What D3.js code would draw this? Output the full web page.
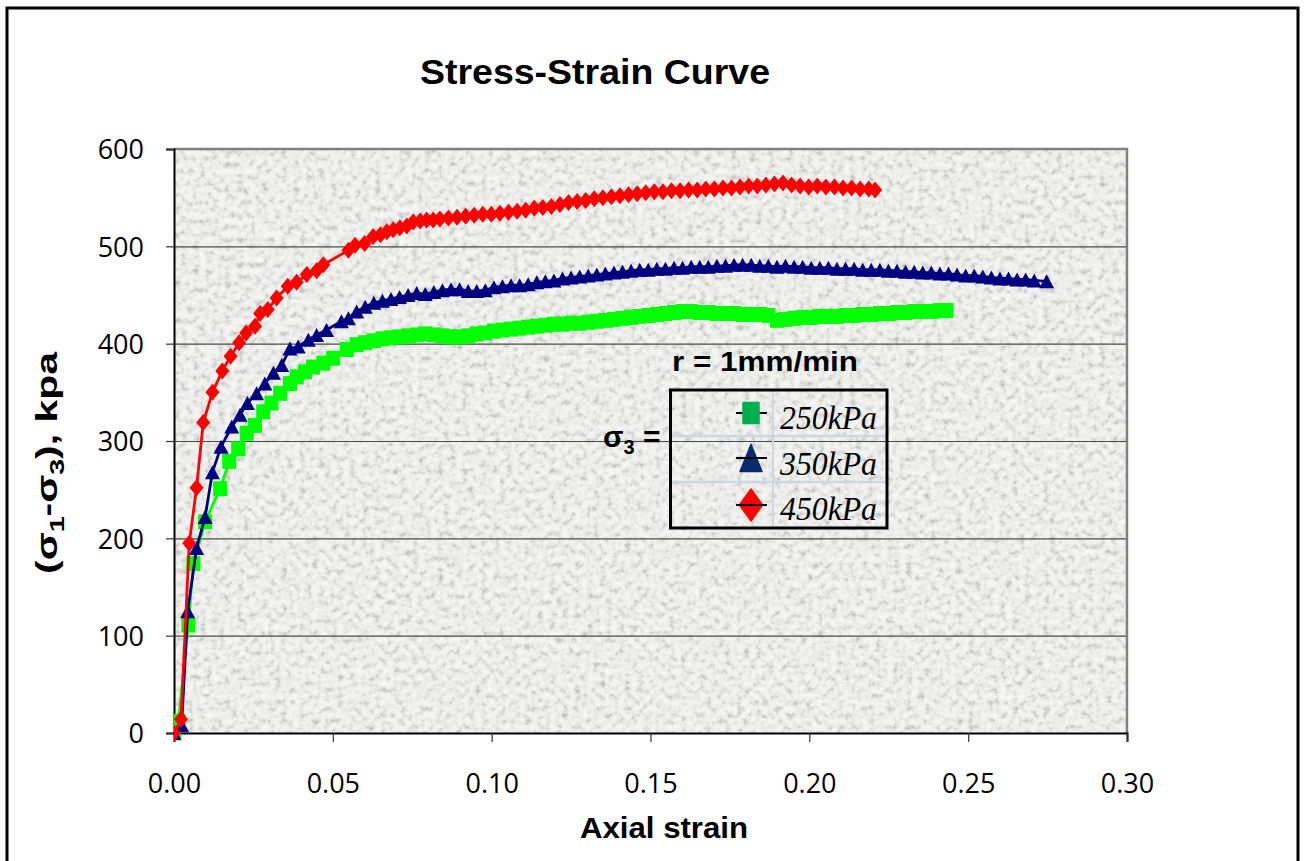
<!DOCTYPE html>
<html>
<head>
<meta charset="utf-8">
<script src="https://cdn.jsdelivr.net/npm/d3@7"></script>
<style>
  body { margin: 0; background: #fff; }
  svg { display: block; }
</style>
</head>
<body>
<svg id="chart" width="1304" height="861"></svg>
<script>
// Triaxial test, r = 1 mm/min: deviator stress vs axial strain for three confining pressures
const strain250 = [0, 0.0014, 0.0045, 0.0061, 0.0098, 0.0145, 0.0174, 0.0202, 0.0229, 0.0255, 0.0281, 0.0307, 0.0334, 0.0365, 0.0386, 0.0412, 0.0438, 0.0470, 0.0501, 0.0544, 0.0575,
  0.0602, 0.0629, 0.0656, 0.0683, 0.0710, 0.0737, 0.0764, 0.0791, 0.0818, 0.0845, 0.0872, 0.0899, 0.0926, 0.0953, 0.0980, 0.1007, 0.1034, 0.1061, 0.1088, 0.1115,
  0.1142, 0.1169, 0.1196, 0.1223, 0.1250, 0.1277, 0.1304, 0.1331, 0.1358, 0.1385, 0.1412, 0.1439, 0.1466, 0.1493, 0.1520, 0.1547, 0.1574, 0.1601, 0.1628, 0.1655,
  0.1682, 0.1709, 0.1736, 0.1763, 0.1790, 0.1817, 0.1844, 0.1871, 0.1898, 0.1925, 0.1952, 0.1979, 0.2006, 0.2033, 0.2060, 0.2087, 0.2114, 0.2141, 0.2168, 0.2195,
  0.2222, 0.2249, 0.2276, 0.2303, 0.2330, 0.2357, 0.2384, 0.2411, 0.2432];
const stress250 = [0, 12, 111, 174, 217, 251, 279, 292, 308, 316, 330, 339, 349, 359, 366, 371, 376, 380, 385, 394, 399,
  401, 403, 405, 406, 407, 408, 409, 410, 409, 408, 407, 407, 408, 410, 411, 413, 414, 415, 416, 417,
  418, 419, 420, 420, 421, 421, 422, 423, 424, 425, 426, 427, 428, 429, 430, 431, 432, 433, 433, 432,
  432, 431, 431, 431, 430, 430, 430, 429, 424, 425, 426, 427, 427, 428, 428, 428, 429, 429, 430, 430,
  431, 431, 432, 432, 433, 433, 433, 434, 434];

const strain350 = [0, 0.0024, 0.0043, 0.0071, 0.0098, 0.0121, 0.0148, 0.0182, 0.0208, 0.0231, 0.0260, 0.0286, 0.0313, 0.0339, 0.0365, 0.0391, 0.0423, 0.0449, 0.0480, 0.0527, 0.0549, 0.0575,
  0.0602, 0.0629, 0.0656, 0.0683, 0.0710, 0.0737, 0.0764, 0.0791, 0.0818, 0.0845, 0.0872, 0.0899, 0.0926, 0.0953, 0.0980, 0.1007, 0.1034, 0.1061, 0.1088, 0.1115,
  0.1142, 0.1169, 0.1196, 0.1223, 0.1250, 0.1277, 0.1304, 0.1331, 0.1358, 0.1385, 0.1412, 0.1439, 0.1466, 0.1493, 0.1520, 0.1547, 0.1574, 0.1601, 0.1628, 0.1655,
  0.1682, 0.1709, 0.1736, 0.1763, 0.1790, 0.1817, 0.1844, 0.1871, 0.1898, 0.1925, 0.1952, 0.1979, 0.2006, 0.2033, 0.2060, 0.2087, 0.2114, 0.2141, 0.2168, 0.2195,
  0.2222, 0.2249, 0.2276, 0.2303, 0.2330, 0.2357, 0.2384, 0.2411, 0.2438, 0.2465, 0.2492, 0.2519, 0.2546, 0.2573, 0.2600, 0.2627, 0.2654, 0.2681, 0.2708, 0.2747];
const stress350 = [0, 8, 125, 190, 222, 268, 294, 315, 327, 339, 349, 359, 370, 378, 395, 397, 404, 409, 414, 423, 426, 433,
  438, 442, 444, 446, 448, 450, 452, 451, 453, 455, 456, 456, 454, 454, 455, 458, 459, 460, 460, 461,
  463, 464, 465, 467, 468, 469, 470, 471, 472, 473, 474, 475, 476, 476, 477, 477, 478, 478, 479, 479,
  479, 480, 480, 481, 481, 481, 480, 480, 479, 480, 479, 479, 478, 478, 478, 477, 477, 477, 476, 476,
  476, 475, 475, 474, 474, 473, 473, 472, 472, 471, 470, 470, 469, 468, 467, 467, 466, 466, 465, 464];

const strain450 = [0, 0.0022, 0.0048, 0.0071, 0.0092, 0.0121, 0.0152, 0.0178, 0.0205, 0.0227, 0.0255, 0.0271, 0.0295, 0.0323, 0.0358, 0.0386, 0.0418, 0.0449, 0.0470,
  0.0549, 0.0570, 0.0600, 0.0627, 0.0650, 0.0670, 0.0690, 0.0711, 0.0733, 0.0753, 0.0775, 0.0795, 0.0816, 0.0837, 0.0864, 0.0891, 0.0918, 0.0945, 0.0972, 0.0999,
  0.1026, 0.1053, 0.1080, 0.1107, 0.1134, 0.1161, 0.1188, 0.1215, 0.1242, 0.1269, 0.1296, 0.1323, 0.1350, 0.1377, 0.1404, 0.1431, 0.1458, 0.1485, 0.1512, 0.1539,
  0.1566, 0.1593, 0.1620, 0.1647, 0.1674, 0.1701, 0.1728, 0.1755, 0.1782, 0.1809, 0.1836, 0.1863, 0.1890, 0.1917, 0.1944, 0.1971, 0.1998, 0.2025, 0.2052, 0.2079,
  0.2106, 0.2133, 0.2160, 0.2187, 0.2207];
const stress450 = [0, 14, 195, 252, 319, 350, 372, 387, 401, 411, 418, 431, 435, 447, 459, 463, 471, 475, 481,
  496, 501, 503, 510, 512, 515, 517, 519, 521, 525, 526, 527, 527, 528, 529, 530, 531, 532, 533, 533,
  534, 535, 536, 537, 539, 540, 541, 543, 545, 546, 547, 549, 550, 551, 552, 553, 554, 555, 556, 556,
  557, 557, 558, 558, 559, 559, 560, 560, 561, 562, 562, 563, 564, 565, 563, 562, 561, 562, 561, 561,
  560, 560, 559, 559, 558];

const seriesNames = ["250kPa", "350kPa", "450kPa"];
const seriesColors = ["#00ff00", "#000080", "#ff0000"];
const legendColors = ["#00b050", "#0b2a6e", "#ff0000"];
const xTicks = [0, 0.05, 0.10, 0.15, 0.20, 0.25, 0.30];
const yTicks = [0, 100, 200, 300, 400, 500, 600];

const series = [
  { name: seriesNames[0], color: seriesColors[0], shape: "square", pts: strain250.map((s, i) => [s, stress250[i]]) },
  { name: seriesNames[1], color: seriesColors[1], shape: "triangle", pts: strain350.map((s, i) => [s, stress350[i]]) },
  { name: seriesNames[2], color: seriesColors[2], shape: "diamond", pts: strain450.map((s, i) => [s, stress450[i]]) }
];

const svg = d3.select("#chart");
const plot = { left: 174, right: 1127, top: 149, bottom: 733 };

const x = d3.scaleLinear().domain([0, 0.30]).range([plot.left, plot.right]);
const y = d3.scaleLinear().domain([0, 600]).range([plot.bottom, plot.top]);

// Granite-like fill for the plot area
const defs = svg.append("defs");
const f = defs.append("filter").attr("id", "granite")
  .attr("x", 0).attr("y", 0).attr("width", "100%").attr("height", "100%")
  .attr("filterUnits", "objectBoundingBox").attr("color-interpolation-filters", "sRGB");
f.append("feTurbulence").attr("type", "fractalNoise").attr("baseFrequency", 0.16)
  .attr("numOctaves", 3).attr("seed", 11).attr("result", "noise");
f.append("feColorMatrix").attr("in", "noise").attr("type", "matrix")
  .attr("values", "1 0 0 0 0  1 0 0 0 0  1 0 0 0 0  0 0 0 0 1")
  .attr("result", "mono");
const ct = f.append("feComponentTransfer").attr("in", "mono").attr("result", "gray");
const tv = "0.70 0.74 0.79 0.85 0.9 0.93 0.948 0.958 0.965 0.97 0.975";
ct.append("feFuncR").attr("type", "table").attr("tableValues", tv);
ct.append("feFuncG").attr("type", "table").attr("tableValues", tv);
ct.append("feFuncB").attr("type", "table").attr("tableValues", tv.split(" ").map(v => (+v - 0.008).toFixed(3)).join(" "));
f.append("feGaussianBlur").attr("in", "gray").attr("stdDeviation", 0.6);

defs.append("clipPath").attr("id", "plotClip").append("rect")
  .attr("x", plot.left).attr("y", plot.top - 10)
  .attr("width", plot.right - plot.left + 10).attr("height", plot.bottom - plot.top + 20);

// Outer frame
svg.append("rect").attr("x", 7).attr("y", 8).attr("width", 1291).attr("height", 880)
  .attr("fill", "#fff").attr("stroke", "#000").attr("stroke-width", 3);

svg.append("rect").attr("x", plot.left).attr("y", plot.top)
  .attr("width", plot.right - plot.left).attr("height", plot.bottom - plot.top)
  .attr("fill", "#ececea").attr("filter", "url(#granite)");

// Gridlines
svg.append("g").selectAll("line").data(yTicks.filter(d => d > 0 && d < 600)).join("line")
  .attr("x1", plot.left).attr("x2", plot.right)
  .attr("y1", d => y(d) + 0.5).attr("y2", d => y(d) + 0.5)
  .attr("stroke", "#4a4a4a").attr("stroke-width", 1.2);

// Plot area border (top/right)
svg.append("path")
  .attr("d", `M${plot.left},${plot.top} H${plot.right} V${plot.bottom}`)
  .attr("fill", "none").attr("stroke", "#808080").attr("stroke-width", 2.5);

// Axes
const yAxis = d3.axisLeft(y).tickValues(yTicks).tickSize(8).tickPadding(22).tickFormat(d3.format("d"));
const xAxis = d3.axisBottom(x).tickValues(xTicks).tickSize(9).tickPadding(46).tickFormat(d3.format(".2f"));

const gy = svg.append("g").attr("transform", `translate(${plot.left},0)`).call(yAxis);
const gx = svg.append("g").attr("transform", `translate(0,${plot.bottom})`).call(xAxis);
[gx, gy].forEach(g => {
  g.select(".domain").attr("stroke", "#000").attr("stroke-width", 2);
  g.selectAll(".tick line").attr("stroke", "#333").attr("stroke-width", 1.2);
  g.selectAll(".tick text").attr("fill", "#000")
    .style("font-family", "'Open Sans', 'DejaVu Sans', sans-serif").style("font-size", "27px");
});
gy.selectAll(".tick text").attr("dy", "0.36em");
gx.selectAll(".tick text").attr("dy", "0.2em");

// Marker shapes
function markerPath(shape) {
  if (shape === "square") return "M-7,-7.5H7V7.5H-7Z";
  if (shape === "triangle") return "M0,-7L7.5,7H-7.5Z";
  return "M0,-8.5L7,0L0,8.5L-7,0Z";
}

const line = d3.line().x(d => x(d[0])).y(d => y(d[1]));
const gs = svg.append("g").attr("clip-path", "url(#plotClip)");
series.forEach(s => {
  const g = gs.append("g");
  g.append("path").datum(s.pts).attr("d", line)
    .attr("fill", "none").attr("stroke", s.color).attr("stroke-width", 2.8).attr("stroke-linejoin", "round");
  g.selectAll("path.mk").data(s.pts).join("path").attr("class", "mk")
    .attr("transform", d => `translate(${x(d[0])},${y(d[1])})`)
    .attr("d", markerPath(s.shape)).attr("fill", s.color);
});

// Titles
const sans = "'Liberation Sans', Arial, sans-serif";
svg.append("text").attr("x", 595).attr("y", 84).attr("text-anchor", "middle")
  .attr("textLength", 350).attr("lengthAdjust", "spacingAndGlyphs")
  .style("font-family", sans).style("font-weight", "bold").style("font-size", "35px")
  .text("Stress-Strain Curve");

svg.append("text").attr("x", 664).attr("y", 838).attr("text-anchor", "middle")
  .attr("textLength", 168).attr("lengthAdjust", "spacingAndGlyphs")
  .style("font-family", sans).style("font-weight", "bold").style("font-size", "30px")
  .text("Axial strain");

const yt = svg.append("text").attr("transform", `translate(57,463) rotate(-90)`)
  .attr("text-anchor", "middle")
  .attr("textLength", 222).attr("lengthAdjust", "spacingAndGlyphs")
  .style("font-family", sans).style("font-weight", "bold").style("font-size", "30px");
yt.append("tspan").text("(σ");
yt.append("tspan").attr("dy", 7).style("font-size", "21px").text("1");
yt.append("tspan").attr("dy", -7).text("-σ");
yt.append("tspan").attr("dy", 7).style("font-size", "21px").text("3");
yt.append("tspan").attr("dy", -7).text("), kpa");

// Annotation and legend table
svg.append("text").attr("x", 672).attr("y", 371)
  .attr("textLength", 186).attr("lengthAdjust", "spacingAndGlyphs")
  .style("font-family", sans).style("font-weight", "bold").style("font-size", "28px")
  .text("r = 1mm/min");

const sg = svg.append("text").attr("x", 603).attr("y", 447)
  .style("font-family", sans).style("font-weight", "bold").style("font-size", "30px");
sg.append("tspan").text("σ");
sg.append("tspan").attr("dy", 7).style("font-size", "20px").text("3");
sg.append("tspan").attr("dy", -7).text(" =");

const lg = { x0: 670.5, x1: 887, y0: 390, y1: 528, xMid: 773 };
const rowCenters = [413, 458, 505];
const rowBase = [429, 475, 520];
svg.append("line").attr("x1", lg.xMid).attr("x2", lg.xMid).attr("y1", lg.y0).attr("y2", lg.y1)
  .attr("stroke", "#cdd5e6").attr("stroke-width", 2);
[436, 482].forEach(yy => svg.append("line").attr("x1", lg.x0).attr("x2", lg.x1).attr("y1", yy).attr("y2", yy)
  .attr("stroke", "#cdd5e6").attr("stroke-width", 2.5));
svg.append("rect").attr("x", lg.x0).attr("y", lg.y0).attr("width", lg.x1 - lg.x0).attr("height", lg.y1 - lg.y0)
  .attr("fill", "none").attr("stroke", "#000").attr("stroke-width", 3);

const legendShapes = [
  "M-8,-10.5H8V10.5H-8Z",
  "M0,-13.5L11,13.5H-11Z",
  "M0,-16L11.5,0L0,16L-11.5,0Z"
];
seriesNames.forEach((name, i) => {
  const cy = rowCenters[i];
  svg.append("line").attr("x1", 736).attr("x2", 767).attr("y1", cy).attr("y2", cy)
    .attr("stroke", "#000").attr("stroke-width", 2);
  svg.append("path").attr("transform", `translate(751,${cy})`).attr("d", legendShapes[i])
    .attr("fill", legendColors[i]).attr("stroke", legendColors[i]).attr("stroke-width", 1.5).attr("stroke-linejoin", "round");
  svg.append("line").attr("x1", 736).attr("x2", 767).attr("y1", cy).attr("y2", cy)
    .attr("stroke", "#000").attr("stroke-width", 2).attr("opacity", i === 0 ? 0 : 1);
  svg.append("text").attr("x", 780).attr("y", rowBase[i])
    .attr("textLength", 97).attr("lengthAdjust", "spacingAndGlyphs")
    .style("font-family", "'Liberation Serif', 'Times New Roman', serif").style("font-style", "italic").style("font-size", "34px")
    .text(name);
});
</script>
</body>
</html>
